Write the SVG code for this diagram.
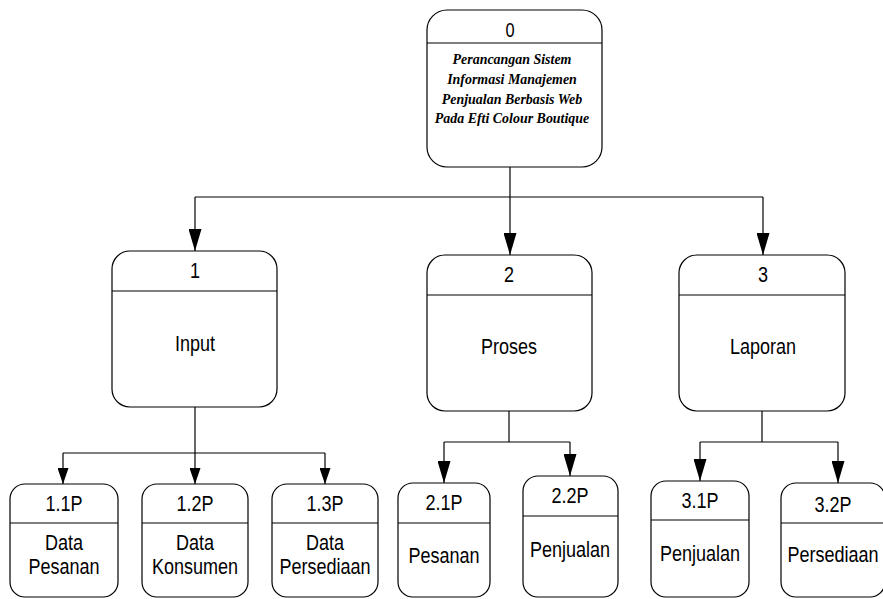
<svg xmlns="http://www.w3.org/2000/svg" width="883" height="599" viewBox="0 0 883 599">
<style>
.box{fill:#fff;stroke:#000;stroke-width:1.2}
.div{stroke:#000;stroke-width:1.2}
.ln{fill:none;stroke:#000;stroke-width:1.2}
.t{font-family:"Liberation Sans",Arial,sans-serif;font-size:22px;fill:#000;text-anchor:middle}
.ti{font-family:"Liberation Serif","Times New Roman",serif;font-size:15.5px;font-weight:bold;font-style:italic;fill:#000;text-anchor:middle}
</style>
<defs>
<marker id="arr" viewBox="0 0 22 13" markerWidth="22" markerHeight="13" refX="22" refY="6.5" orient="auto" markerUnits="userSpaceOnUse"><path d="M0,0 L22,6.5 L0,13 Z" fill="#000"/></marker>
<marker id="arrs" viewBox="0 0 16 11" markerWidth="16" markerHeight="11" refX="16" refY="5.5" orient="auto" markerUnits="userSpaceOnUse"><path d="M0,0 L16,5.5 L0,11 Z" fill="#000"/></marker>
</defs>
<rect width="883" height="599" fill="#fff"/>
<g id="connectors">
<path class="ln" d="M510,167 V197"/>
<path class="ln" d="M195,197 H763"/>
<path class="ln" d="M195,197 V251" marker-end="url(#arr)"/>
<path class="ln" d="M510,197 V255" marker-end="url(#arr)"/>
<path class="ln" d="M763,197 V255" marker-end="url(#arr)"/>
<path class="ln" d="M195,407 V453"/>
<path class="ln" d="M63,453 H325"/>
<path class="ln" d="M63,453 V484" marker-end="url(#arrs)"/>
<path class="ln" d="M195,453 V484" marker-end="url(#arrs)"/>
<path class="ln" d="M325,453 V484" marker-end="url(#arrs)"/>
<path class="ln" d="M509,411 V442"/>
<path class="ln" d="M444,442 H570"/>
<path class="ln" d="M444,442 V483" marker-end="url(#arr)"/>
<path class="ln" d="M570,442 V476" marker-end="url(#arr)"/>
<path class="ln" d="M762,411 V442"/>
<path class="ln" d="M700,442 H838"/>
<path class="ln" d="M700,442 V481" marker-end="url(#arr)"/>
<path class="ln" d="M838,442 V483" marker-end="url(#arr)"/>
</g>
<g id="node0">
<rect class="box" x="427" y="10" width="175" height="157" rx="20"/>
<line class="div" x1="427" y1="43" x2="602" y2="43"/>
<text class="t" transform="translate(510,37) scale(0.82,1)" style="font-size:20px">0</text>
<text class="ti" transform="translate(512,64) scale(0.9,1)">Perancangan Sistem</text>
<text class="ti" transform="translate(512,84) scale(0.9,1)">Informasi Manajemen</text>
<text class="ti" transform="translate(512,104) scale(0.9,1)">Penjualan Berbasis Web</text>
<text class="ti" transform="translate(512,123) scale(0.9,1)">Pada Efti Colour Boutique</text>
</g>
<g id="node1">
<rect class="box" x="112" y="251" width="165" height="156" rx="18"/>
<line class="div" x1="112" y1="291" x2="277" y2="291"/>
<text class="t" transform="translate(195,278) scale(0.82,1)">1</text>
<text class="t" transform="translate(195,351) scale(0.82,1)">Input</text>
</g>
<g id="node2">
<rect class="box" x="427" y="255" width="165" height="156" rx="18"/>
<line class="div" x1="427" y1="295" x2="592" y2="295"/>
<text class="t" transform="translate(509,282) scale(0.82,1)">2</text>
<text class="t" transform="translate(509,354) scale(0.82,1)">Proses</text>
</g>
<g id="node3">
<rect class="box" x="679" y="255" width="166" height="156" rx="18"/>
<line class="div" x1="679" y1="295" x2="845" y2="295"/>
<text class="t" transform="translate(763,282) scale(0.82,1)">3</text>
<text class="t" transform="translate(763,354) scale(0.82,1)">Laporan</text>
</g>
<g id="node11">
<rect class="box" x="10" y="484" width="108" height="113" rx="15"/>
<line class="div" x1="10" y1="523" x2="118" y2="523"/>
<text class="t" transform="translate(64,511) scale(0.82,1)">1.1P</text>
<text class="t" transform="translate(64,550) scale(0.82,1)">Data</text>
<text class="t" transform="translate(64,574) scale(0.82,1)">Pesanan</text>
</g>
<g id="node12">
<rect class="box" x="142" y="484" width="106" height="113" rx="15"/>
<line class="div" x1="142" y1="523" x2="248" y2="523"/>
<text class="t" transform="translate(195,511) scale(0.82,1)">1.2P</text>
<text class="t" transform="translate(195,550) scale(0.82,1)">Data</text>
<text class="t" transform="translate(195,574) scale(0.82,1)">Konsumen</text>
</g>
<g id="node13">
<rect class="box" x="272" y="484" width="106" height="113" rx="15"/>
<line class="div" x1="272" y1="523" x2="378" y2="523"/>
<text class="t" transform="translate(325,511) scale(0.82,1)">1.3P</text>
<text class="t" transform="translate(325,550) scale(0.82,1)">Data</text>
<text class="t" transform="translate(325,574) scale(0.82,1)">Persediaan</text>
</g>
<g id="node21">
<rect class="box" x="398" y="483" width="92" height="114" rx="15"/>
<line class="div" x1="398" y1="523" x2="490" y2="523"/>
<text class="t" transform="translate(444,510) scale(0.82,1)">2.1P</text>
<text class="t" transform="translate(444,563) scale(0.82,1)">Pesanan</text>
</g>
<g id="node22">
<rect class="box" x="523" y="476" width="95" height="121" rx="15"/>
<line class="div" x1="523" y1="516" x2="618" y2="516"/>
<text class="t" transform="translate(570,503) scale(0.82,1)">2.2P</text>
<text class="t" transform="translate(570,557) scale(0.82,1)">Penjualan</text>
</g>
<g id="node31">
<rect class="box" x="651" y="481" width="98" height="116" rx="15"/>
<line class="div" x1="651" y1="520" x2="749" y2="520"/>
<text class="t" transform="translate(700,508) scale(0.82,1)">3.1P</text>
<text class="t" transform="translate(700,561) scale(0.82,1)">Penjualan</text>
</g>
<g id="node32">
<rect class="box" x="781" y="483" width="104" height="114" rx="15"/>
<line class="div" x1="781" y1="523" x2="885" y2="523"/>
<text class="t" transform="translate(833,512) scale(0.82,1)">3.2P</text>
<text class="t" transform="translate(833,562) scale(0.82,1)">Persediaan</text>
</g>
</svg>
